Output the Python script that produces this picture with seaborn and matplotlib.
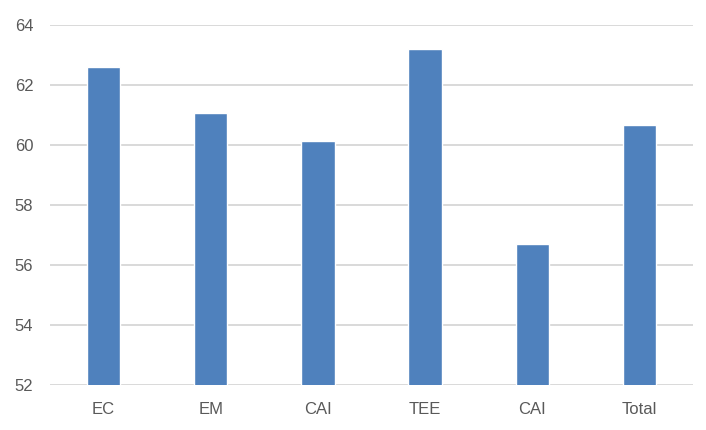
import matplotlib
matplotlib.use("Agg")
import matplotlib.pyplot as plt
import seaborn as sns
import pandas as pd

# --------- dados ---------
categorias = ["EC", "EM", "CAI", "TEE", "CAI", "Total"]
valores = [62.62, 61.07, 60.14, 63.21, 56.71, 60.67]
y_ticks = [52, 54, 56, 58, 60, 62, 64]
# -------------------------

COR_BARRA = "#4F81BD"
COR_GRADE = "#D9D9D9"
COR_TEXTO = "#595959"

sns.set_theme(style="white")
plt.rcParams["font.family"] = ["Liberation Sans", "DejaVu Sans"]

# categorias repetidas (CAI) -> usa posicao como chave
df = pd.DataFrame({"pos": list(range(len(categorias))), "valor": valores})

fig = plt.figure(figsize=(7.06, 4.30), dpi=100)
ax = fig.add_axes([50 / 706, 1 - 385.3 / 430, 643 / 706, 360 / 430])

sns.barplot(data=df, x="pos", y="valor", color=COR_BARRA, width=0.31,
            saturation=1, ax=ax, zorder=3)

ax.set_ylim(52, 64)
ax.set_yticks(y_ticks)
ax.set_xticks(range(len(categorias)))
ax.set_xticklabels(categorias)
ax.set_xlim(-0.5, len(categorias) - 0.5)
ax.set_xlabel("")
ax.set_ylabel("")

ax.grid(axis="y", color=COR_GRADE, linewidth=1.4, zorder=0)
ax.grid(axis="x", visible=False)
for s in ax.spines.values():
    s.set_visible(False)
ax.tick_params(axis="both", length=0, labelsize=12, labelcolor=COR_TEXTO)
ax.tick_params(axis="y", pad=12)
ax.tick_params(axis="x", pad=12)

fig.savefig("out.png", dpi=100, facecolor="white")
